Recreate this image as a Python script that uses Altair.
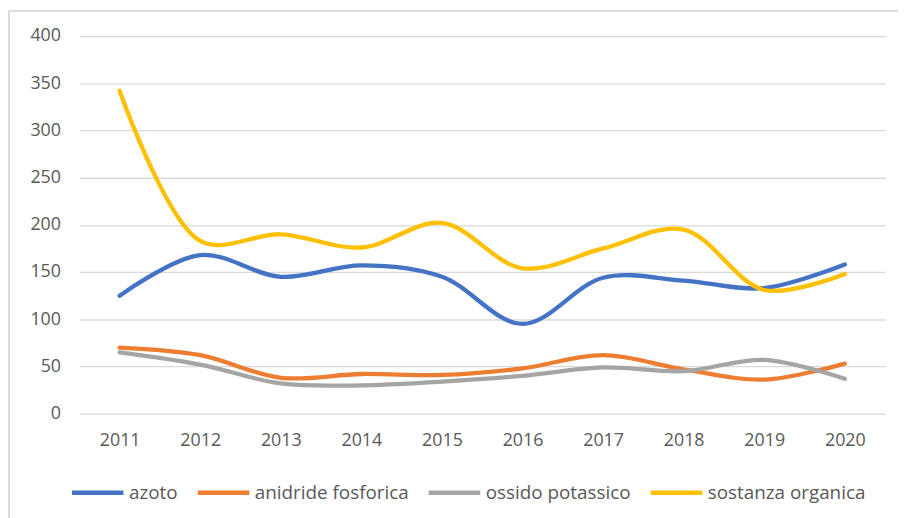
import altair as alt
import pandas as pd

years = ["2011", "2012", "2013", "2014", "2015", "2016", "2017", "2018", "2019", "2020"]
series_names = ["azoto", "anidride fosforica", "ossido potassico", "sostanza organica"]
azoto = [125, 168, 145, 157, 145, 95, 144, 141, 133, 158]
anidride_fosforica = [70, 62, 38, 42, 41, 48, 62, 47, 36, 53]
ossido_potassico = [65, 52, 32, 30, 34, 40, 49, 45, 57, 37]
sostanza_organica = [342, 183, 190, 176, 202, 154, 175, 195, 131, 148]
colors = ["#4472C4", "#ED7D31", "#A5A5A5", "#FFC000"]
y_ticks = [0, 50, 100, 150, 200, 250, 300, 350, 400]

rows = []
for name, vals in zip(series_names, [azoto, anidride_fosforica, ossido_potassico, sostanza_organica]):
    for yr, v in zip(years, vals):
        rows.append({"anno": yr, "serie": name, "valore": v, "ord": series_names.index(name)})
df = pd.DataFrame(rows)

FONT = "Open Sans"
TXT = "#595959"

lines = alt.Chart(df).mark_line(
    interpolate="catmull-rom", strokeWidth=4.3, strokeCap="round", strokeJoin="round"
).encode(
    x=alt.X("anno:O", sort=years, scale=alt.Scale(type="point", padding=0.5),
            axis=alt.Axis(title=None, labelAngle=0, domain=False, ticks=False,
                          labelPadding=18, labelFont=FONT, labelFontSize=18,
                          labelColor=TXT, grid=False)),
    y=alt.Y("valore:Q", scale=alt.Scale(domain=[0, 400], nice=False),
            axis=alt.Axis(title=None, values=y_ticks, domain=False, ticks=False,
                          labelPadding=19, labelFont=FONT, labelFontSize=18,
                          labelColor=TXT, gridColor="#D9D9D9", gridWidth=1.3)),
    color=alt.Color("serie:N", scale=alt.Scale(domain=series_names, range=colors),
                    legend=alt.Legend(title=None, orient="none", direction="horizontal",
                                      legendX=-10, legendY=432,
                                      symbolType="stroke", symbolSize=2704,
                                      symbolStrokeWidth=4.5, labelOffset=3,
                                      columnPadding=10, labelFont=FONT,
                                      labelFontSize=19, labelColor=TXT)),
    order=alt.Order("ord:Q"),
    detail="serie:N",
)

frame_left = alt.Chart(df).mark_rule(color="#DDDDDD", strokeWidth=1.5).encode(
    x=alt.value(-71), y=alt.value(-26), y2=alt.value(490)
)
frame_top = alt.Chart(df).mark_rule(color="#DDDDDD", strokeWidth=1.5).encode(
    x=alt.value(-71), x2=alt.value(830), y=alt.value(-25.5)
)

chart = alt.layer(frame_left, frame_top, lines).properties(
    width=813, height=381,
    autosize=alt.AutoSizeParams(type="none"),
    padding={"left": 72, "top": 26, "right": 13, "bottom": 103},
).configure(background="white").configure_view(stroke=None)

chart.save("out.html", embed_options={"renderer": "svg", "actions": False})
